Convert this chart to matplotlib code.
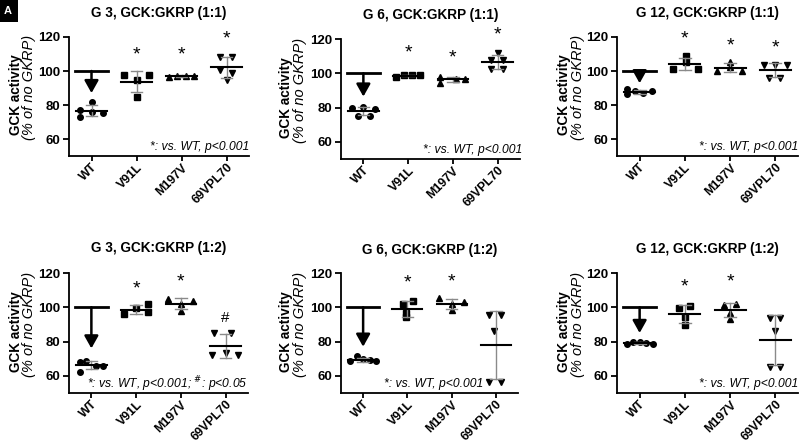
import numpy as np
import matplotlib
matplotlib.use("Agg")
import matplotlib.pyplot as plt
from matplotlib.patches import Rectangle

plt.rcParams['font.family'] = ['Liberation Sans', 'DejaVu Sans']

categories = ["WT", "V91L", "M197V", "69VPL70"]
titles = ["G 3, GCK:GKRP (1:1)", "G 6, GCK:GKRP (1:1)", "G 12, GCK:GKRP (1:1)",
          "G 3, GCK:GKRP (1:2)", "G 6, GCK:GKRP (1:2)", "G 12, GCK:GKRP (1:2)"]
yticks = [60, 80, 100, 120]

# values (% of no GKRP) per panel, per category
g3_11 = [[81.6, 77.1, 76.1, 75.1, 72.8],
         [97.6, 97.6, 94.7, 84.5],
         [96.2, 97.2, 97.2, 97.2],
         [108.4, 108.4, 100.6, 98.6, 94.7]]
g6_11 = [[79.6, 80.2, 79.2, 75.2, 75.2],
         [98.0, 98.8, 98.8, 98.8],
         [97.7, 94.6, 96.7, 96.7],
         [112.0, 107.8, 107.8, 102.3, 102.3]]
g12_11 = [[89.5, 86.2, 88.0, 87.3, 88.2],
          [109.0, 105.1, 101.2, 101.2],
          [105.5, 102.2, 100.2, 100.2],
          [103.5, 103.5, 103.5, 96.1, 96.1]]
g3_12 = [[68.0, 68.9, 62.5, 66.0, 66.0],
         [96.0, 99.4, 101.8, 97.5],
         [104.9, 103.7, 101.8, 97.9],
         [85.2, 85.2, 73.2, 72.2, 72.2]]
g6_12 = [[68.4, 71.3, 69.9, 69.3, 68.4],
         [101.8, 103.7, 94.2, 96.5],
         [105.3, 102.9, 101.8, 98.4],
         [95.5, 95.5, 86.2, 56.7, 56.7]]
g12_12 = [[78.3, 79.5, 79.5, 79.2, 78.3],
          [99.4, 101.0, 94.6, 89.7],
          [101.4, 101.8, 96.5, 93.2],
          [93.6, 93.6, 86.2, 65.4, 65.4]]
panels = [g3_11, g6_11, g12_11, g3_12, g6_12, g12_12]

# significance marks: (category index, label, y)
sig_marks = [[(1, "*", 109.4), (2, "*", 109.4), (3, "*", 118.6)],
             [(1, "*", 112.0), (2, "*", 108.8), (3, "*", 122.3)],
             [(1, "*", 118.6), (2, "*", 114.7), (3, "*", 113.3)],
             [(1, "*", 110.7), (2, "*", 115.0), (3, "#", 93.6)],
             [(1, "*", 114.0), (2, "*", 114.6)],
             [(1, "*", 112.0), (2, "*", 114.6)]]
arrow_tips = [87.0, 86.4, 92.8, 76.0, 77.0, 85.0]
notes = ["*: vs. WT, p<0.001", "*: vs. WT, p<0.001", "*: vs. WT, p<0.001",
         "*: vs. WT, p<0.001; $^{\\#}$: p<0.05", "*: vs. WT, p<0.001", "*: vs. WT, p<0.001"]

# layout: horizontal offsets of points inside each group (category units)
offsets = [
    [[0, -0.26, 0, 0.26, -0.26], [-0.28, 0.28, 0, 0], [-0.27, -0.09, 0.09, 0.27], [-0.15, 0.13, -0.15, 0.13, 0]],
    [[-0.25, 0, 0.26, -0.13, 0.14], [-0.27, -0.09, 0.08, 0.27], [-0.29, -0.29, 0.08, 0.27], [0, -0.14, 0.12, -0.14, 0.12]],
    [[-0.29, -0.29, -0.1, 0.08, 0.27], [0.02, 0.02, -0.27, 0.28], [0, 0, -0.29, 0.27], [-0.26, 0, 0.25, -0.15, 0.1]],
    [[-0.26, -0.11, -0.26, 0.11, 0.26], [-0.28, 0, 0.27, 0.27], [-0.28, 0.27, 0, 0], [-0.25, 0.12, 0.0, -0.3, 0.27]],
    [[-0.29, -0.13, 0, 0.15, 0.29], [-0.1, 0.12, -0.04, -0.04], [-0.29, 0.27, 0, 0], [-0.15, 0.11, -0.04, -0.15, 0.11]],
    [[-0.29, -0.14, 0, 0.15, 0.29], [-0.14, 0.12, 0, 0], [-0.14, 0.12, 0, 0], [-0.12, 0.11, 0, -0.12, 0.11]],
]
markers = ["o", "s", "^", "v"]
msizes = [4.0, 4.0, 4.6, 4.6]

W, H = 800, 447
fig = plt.figure(figsize=(W / 100, H / 100), dpi=100)

# axes boxes in pixels: left, right, top(=120), bottom(=50)
boxes = [(69, 249, 37, 156), (341, 520, 39, 159), (617, 798, 37, 156),
         (69, 248, 273, 393), (341, 518, 273, 393), (617, 798, 273, 393)]
title_y = [13, 15, 13, 248, 250, 249]
ylab_x = [(16, 29), (286, 300), (564, 578)]
note_right = [249, 522, 798, 248, 483, 798]

for i, (data, box) in enumerate(zip(panels, boxes)):
    l, r, t, b = box
    ax = fig.add_axes([l / W, 1 - b / H, (r - l) / W, (b - t) / H])
    ax.set_xlim(-0.5, 3.5)
    ax.set_ylim(50, 120)
    for s in ["top", "right"]:
        ax.spines[s].set_visible(False)
    for s in ["left", "bottom"]:
        ax.spines[s].set_linewidth(1.3)
    ax.set_yticks(yticks)
    ax.set_yticklabels([str(v) for v in yticks], fontsize=9.5, fontweight="bold")
    ax.set_xticks(range(len(categories)))
    ax.set_xticklabels(categories, fontsize=8.9, fontweight="bold", rotation=45,
                       ha="right", rotation_mode="anchor")
    ax.tick_params(axis="both", width=1.3, length=4, pad=2)
    ax.tick_params(axis="x", length=3.5, pad=0.5)

    for j, vals in enumerate(data):
        vals = np.array(vals)
        xs = j + np.array(offsets[i][j])
        ax.plot(xs, vals, linestyle="none", marker=markers[j], color="black",
                markersize=msizes[j], zorder=3)
        m = vals.mean()
        sd = vals.std(ddof=1)
        ax.plot([j, j], [m - sd, m + sd], color="#8a8a8a", lw=1.0, zorder=4)
        for y in (m - sd, m + sd):
            ax.plot([j - 0.13, j + 0.13], [y, y], color="#8a8a8a", lw=1.0, zorder=4)
        ax.plot([j - 0.34, j + 0.34], [m, m], color="black", lw=1.5, zorder=5)

    # 100% reference + arrow
    ax.plot([-0.37, 0.37], [100, 100], color="black", lw=2.0, zorder=5)
    ax.annotate("", xy=(0, arrow_tips[i]), xytext=(0, 100),
                arrowprops=dict(arrowstyle="-|>,head_length=0.5,head_width=0.28",
                                color="black", lw=1.8,
                                mutation_scale=15, shrinkA=0, shrinkB=0), zorder=5)

    for (j, lab, y) in sig_marks[i]:
        ax.text(j, y, lab, ha="center", va="center", fontsize=14 if lab == "*" else 11,
                clip_on=False)

    fig.text(note_right[i] / W, 1 - (b - 9) / H, notes[i], ha="right", va="center",
             fontsize=8.7, style="italic")

    fig.text((l + r) / 2 / W, 1 - title_y[i] / H, titles[i], ha="center", va="center",
             fontsize=9.8, fontweight="bold")
    cx1, cx2 = ylab_x[i % 3]
    cy = (t + b) / 2
    fig.text(cx1 / W, 1 - (cy - 1.5) / H, "GCK activity", rotation=90, ha="center",
             va="center", fontsize=9.8, fontweight="bold")
    fig.text(cx2 / W, 1 - (cy - 9) / H, "(% of no GKRP)", rotation=90, ha="center",
             va="center", fontsize=10.5, style="italic")

fig.patches.append(Rectangle((0, 1 - 22 / H), 18 / W, 22 / H, transform=fig.transFigure,
                             facecolor="black", edgecolor="none"))
fig.text(8 / W, 1 - 11 / H, "A", color="white", fontsize=8, fontweight="bold",
         ha="center", va="center")

fig.savefig("out.png", dpi=100)
